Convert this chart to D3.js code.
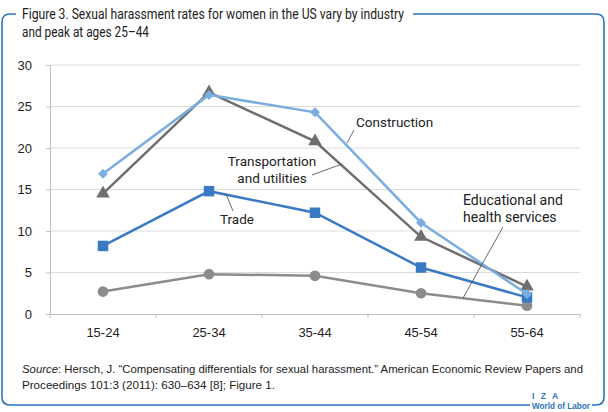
<!DOCTYPE html>
<html>
<head>
<meta charset="utf-8">
<script src="https://cdn.jsdelivr.net/npm/d3@7"></script>
<style>
  body { margin: 0; background: #fff; }
  text { font-family: Roboto, "Liberation Sans", sans-serif; }
</style>
</head>
<body>
<div id="chart"></div>
<script>
// Data
const ageGroups = ["15-24", "25-34", "35-44", "45-54", "55-64"];
const construction = [16.9, 26.4, 24.3, 11.0, 2.4];
const transportation = [14.5, 26.7, 20.8, 9.3, 3.3];
const trade = [8.2, 14.8, 12.2, 5.6, 2.0];
const eduHealth = [2.7, 4.8, 4.6, 2.5, 1.0];
const yTicks = [0, 5, 10, 15, 20, 25, 30];

const W = 608, H = 412;
const margin = { top: 65, right: 28, bottom: 98, left: 50 },
    width = W - margin.left - margin.right,
    height = H - margin.top - margin.bottom;

const root = d3.select("#chart").append("svg")
    .attr("width", W).attr("height", H);

// Frame with rounded corners, broken by title and logo
const blue = "#2a74bb";
root.append("path")
    .attr("fill", "none").attr("stroke", blue).attr("stroke-width", 1.6)
    .attr("d", "M16,14 L10,14 Q2,14 2,22 L2,397 Q2,405 10,405 L530,405");
root.append("path")
    .attr("fill", "none").attr("stroke", blue).attr("stroke-width", 1.6)
    .attr("d", "M413,14 L596,14 Q604,14 604,22 L604,397 Q604,405 596,405 L592,405");

root.append("text").attr("x", 22).attr("y", 19)
    .attr("font-size", 14).attr("fill", "#222")
    .attr("textLength", 382).attr("lengthAdjust", "spacingAndGlyphs")
    .text("Figure 3. Sexual harassment rates for women in the US vary by industry");
root.append("text").attr("x", 22).attr("y", 37)
    .attr("font-size", 14).attr("fill", "#222")
    .attr("textLength", 127).attr("lengthAdjust", "spacingAndGlyphs")
    .text("and peak at ages 25\u201344");

const svg = root.append("g")
    .attr("transform", `translate(${margin.left},${margin.top})`);

const x = d3.scaleBand().domain(ageGroups).range([0, width]);
const y = d3.scaleLinear().domain([0, 30]).range([height, 0]);
const cx = d => x(d) + x.bandwidth() / 2;

// Gridlines
svg.append("g")
    .selectAll("line")
    .data(yTicks.slice(1))
    .enter().append("line")
    .attr("x1", 0).attr("x2", width)
    .attr("y1", d => y(d)).attr("y2", d => y(d))
    .attr("stroke", "#dcdcdc").attr("stroke-width", 1);

// Axes
const yAxis = svg.append("g")
    .call(d3.axisLeft(y).tickValues(yTicks).tickSize(4).tickPadding(14));
yAxis.select(".domain").attr("stroke", "#bfbfbf");
yAxis.selectAll(".tick line").attr("stroke", "#bfbfbf");
yAxis.selectAll("text").attr("font-size", 13).attr("fill", "#222")
    .style("font-family", "Liberation Sans, Arial, sans-serif");

const xAxis = svg.append("g")
    .attr("transform", `translate(0,${height})`)
    .call(d3.axisBottom(x).tickSize(0).tickPadding(14));
xAxis.select(".domain").attr("stroke", "#bfbfbf");
xAxis.selectAll("text").attr("font-size", 13).attr("fill", "#222")
    .style("font-family", "Liberation Sans, Arial, sans-serif");
// band boundary ticks
svg.append("g").selectAll("line")
    .data(ageGroups.concat(["end"]))
    .enter().append("line")
    .attr("x1", (d, i) => i * x.bandwidth()).attr("x2", (d, i) => i * x.bandwidth())
    .attr("y1", height).attr("y2", height + 4)
    .attr("stroke", "#bfbfbf");

const series = [
  { name: "Edu", values: eduHealth, color: "#8c8c8c", shape: d3.symbolCircle, size: 90, rot: 0 },
  { name: "Trade", values: trade, color: "#3a79c4", shape: d3.symbolSquare, size: 110, rot: 0 },
  { name: "Transportation", values: transportation, color: "#6e6e6e", shape: d3.symbolTriangle, size: 80, rot: 0 },
  { name: "Construction", values: construction, color: "#7aaee0", shape: d3.symbolSquare, size: 50, rot: 45 }
];

const line = d3.line()
    .x((d, i) => cx(ageGroups[i]))
    .y(d => y(d));

series.forEach(s => {
  svg.append("path")
      .datum(s.values)
      .attr("fill", "none")
      .attr("stroke", s.color)
      .attr("stroke-width", 2.5)
      .attr("d", line);
  svg.selectAll(null)
      .data(s.values)
      .enter().append("path")
      .attr("transform", (d, i) => `translate(${cx(ageGroups[i])},${y(d)}) rotate(${s.rot})`)
      .attr("d", d3.symbol().type(s.shape).size(s.size))
      .attr("fill", s.color);
});

// Annotations with leader lines (positions in page coordinates)
const ann = root.append("g").attr("font-size", 13.5).attr("fill", "#222");
const leader = (x1, y1, x2, y2) => root.append("line")
    .attr("x1", x1).attr("y1", y1).attr("x2", x2).attr("y2", y2)
    .attr("stroke", "#444").attr("stroke-width", 0.8);

ann.append("text").attr("x", 356).attr("y", 127).text("Construction");
leader(354, 130, 347, 143);

ann.append("text").attr("x", 272).attr("y", 166).attr("text-anchor", "middle").text("Transportation");
ann.append("text").attr("x", 272).attr("y", 183).attr("text-anchor", "middle").text("and utilities");
leader(312, 175, 342, 164);

ann.append("text").attr("x", 237).attr("y", 224).attr("text-anchor", "middle").text("Trade");
leader(226, 194, 233, 211);

ann.append("text").attr("x", 463).attr("y", 205).attr("font-size", 14).text("Educational and");
ann.append("text").attr("x", 463).attr("y", 222).attr("font-size", 14).text("health services");
leader(503, 227, 463, 298);

// Source
const src = root.append("text").attr("x", 22).attr("y", 373)
    .attr("font-size", 11.2).attr("fill", "#222")
    .attr("textLength", 561).attr("lengthAdjust", "spacingAndGlyphs")
    .style("font-family", "Liberation Sans, Arial, sans-serif");
src.append("tspan").attr("font-style", "italic").text("Source");
src.append("tspan").text(": Hersch, J. \u201cCompensating differentials for sexual harassment.\u201d American Economic Review Papers and");
root.append("text").attr("x", 22).attr("y", 389)
    .attr("font-size", 11.2).attr("fill", "#222")
    .attr("textLength", 253).attr("lengthAdjust", "spacingAndGlyphs")
    .style("font-family", "Liberation Sans, Arial, sans-serif")
    .text("Proceedings 101:3 (2011): 630\u2013634 [8]; Figure 1.");

// Logo
root.append("text").attr("x", 532).attr("y", 399)
    .attr("font-size", 8.5).attr("font-weight", "bold").attr("fill", blue)
    .style("font-family", "Liberation Sans, Arial, sans-serif")
    .attr("letter-spacing", 2)
    .text("I Z A");
root.append("text").attr("x", 532).attr("y", 408.5)
    .attr("font-size", 9.5).attr("font-weight", "bold").attr("fill", blue)
    .attr("textLength", 58).attr("lengthAdjust", "spacingAndGlyphs")
    .style("font-family", "Liberation Sans, Arial, sans-serif")
    .text("World of Labor");
</script>
</body>
</html>
